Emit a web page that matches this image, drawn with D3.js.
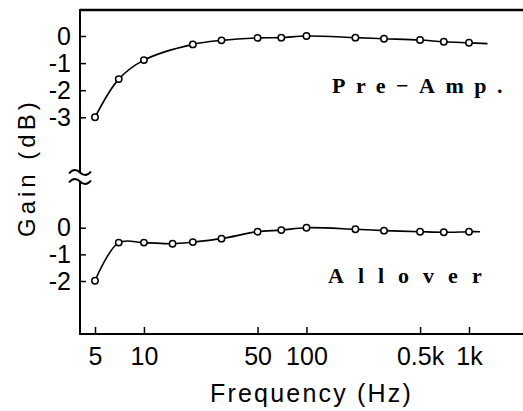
<!DOCTYPE html>
<html><head><meta charset="utf-8">
<script src="https://cdn.jsdelivr.net/npm/d3@7"></script>
<style>body{margin:0;background:#fff}svg{display:block}</style>
</head><body>
<svg id="c" width="523" height="411"></svg>
<script>
// Data
const preFreq = [5, 7, 10, 20, 30, 50, 70, 100, 200, 300, 500, 700, 1000];
const preGain = [-3.0, -1.59, -0.89, -0.31, -0.16, -0.07, -0.06, 0, -0.06, -0.1, -0.15, -0.21, -0.25];
const preTail = [1300, -0.28];
const allFreq = [5, 7, 10, 15, 20, 30, 50, 70, 100, 200, 300, 500, 700, 1000];
const allGain = [-1.99, -0.56, -0.56, -0.6, -0.54, -0.41, -0.15, -0.09, 0, -0.06, -0.11, -0.15, -0.17, -0.15];
const allTail = [1170, -0.15];
const xTicks = [5, 10, 50, 100, 500, 1000];
const xTickLabels = ["5", "10", "50", "100", "0.5k", "1k"];
const preTicks = [0, -1, -2, -3];
const allTicks = [0, -1, -2];

const svg = d3.select("#c");
const X0 = 80, X1 = 523;
const x = d3.scaleLog().domain([5, 1000]).range([95, 469]);
const yPre = d3.scaleLinear().domain([0, -3]).range([36, 117.3]);
const yAll = d3.scaleLinear().domain([0, -2]).range([227.7, 281]);
const sans = "'Liberation Sans', Arial, sans-serif";
const serif = "'Liberation Serif', 'Times New Roman', serif";

// frame lines
svg.append("line").attr("x1", X0).attr("x2", X1).attr("y1", 10).attr("y2", 10).attr("stroke", "#000").attr("stroke-width", 2.5);
svg.append("line").attr("x1", X0 - 1).attr("x2", X1).attr("y1", 334).attr("y2", 334).attr("stroke", "#000").attr("stroke-width", 2);
svg.append("line").attr("x1", X0).attr("x2", X0).attr("y1", 9).attr("y2", 173).attr("stroke", "#000").attr("stroke-width", 2);
svg.append("line").attr("x1", X0).attr("x2", X0).attr("y1", 182).attr("y2", 335).attr("stroke", "#000").attr("stroke-width", 2);
// break marks
[172.5, 181.5].forEach(yy => {
  svg.append("path").attr("d", `M69,${yy+1} C73,${yy-4} 77,${yy-3} 80,${yy} C83,${yy+3} 87,${yy+4} 91,${yy-1}`)
    .attr("fill", "none").attr("stroke", "#000").attr("stroke-width", 2);
});

// x axis ticks
const xa = d3.axisBottom(x).tickValues(xTicks).tickSize(0).tickFormat((d, i) => xTickLabels[i]);
const gx = svg.append("g").attr("transform", "translate(0,334)").call(xa);
gx.select(".domain").remove();
gx.selectAll("text").attr("font-family", sans).attr("font-size", 25).attr("fill", "#000").attr("y", 31).attr("dy", null);
gx.selectAll(".tick").append("line").attr("y1", 0).attr("y2", -7).attr("stroke", "#000").attr("stroke-width", 1.5);

function yAxis(scale, ticks) {
  const g = svg.append("g").attr("transform", `translate(${X0},0)`)
    .call(d3.axisLeft(scale).tickValues(ticks).tickSize(0).tickPadding(9).tickFormat(d => d === 0 ? "0" : "-" + Math.abs(d)));
  g.select(".domain").remove();
  g.selectAll("text").attr("font-family", sans).attr("font-size", 25).attr("fill", "#000");
  g.selectAll(".tick").append("line").attr("x1", 0).attr("x2", 6).attr("stroke", "#000").attr("stroke-width", 1.5);
}
yAxis(yPre, preTicks);
yAxis(yAll, allTicks);

function series(freq, gain, tail, yScale) {
  const pts = freq.map((f, i) => [x(f), yScale(gain[i])]);
  const line = d3.line().curve(d3.curveCatmullRom.alpha(0.5));
  svg.append("path").attr("d", line(pts.concat([[x(tail[0]), yScale(tail[1])]])))
    .attr("fill", "none").attr("stroke", "#000").attr("stroke-width", 1.6);
  svg.append("g").selectAll("circle").data(pts).join("circle")
    .attr("cx", d => d[0]).attr("cy", d => d[1]).attr("r", 3.2)
    .attr("fill", "#fff").attr("stroke", "#000").attr("stroke-width", 1.5);
}
series(preFreq, preGain, preTail, yPre);
series(allFreq, allGain, allTail, yAll);

// labels
svg.append("text").attr("x", 332).attr("y", 93).attr("font-family", serif).attr("font-size", 22)
  .attr("font-weight", "bold").attr("letter-spacing", "10.5px").text("Pre\u2212Amp.");
svg.append("text").attr("x", 328).attr("y", 283).attr("font-family", serif).attr("font-size", 22)
  .attr("font-weight", "bold").attr("letter-spacing", "14px").text("Allover");

svg.append("text").attr("x", 210).attr("y", 402).attr("font-family", sans)
  .attr("font-size", 25).attr("letter-spacing", "2.2px").text("Frequency (Hz)");
svg.append("text").attr("transform", "translate(35,237) rotate(-90)")
  .attr("font-family", sans).attr("font-size", 24).attr("letter-spacing", "4px").text("Gain (dB)");
</script>
</body></html>
